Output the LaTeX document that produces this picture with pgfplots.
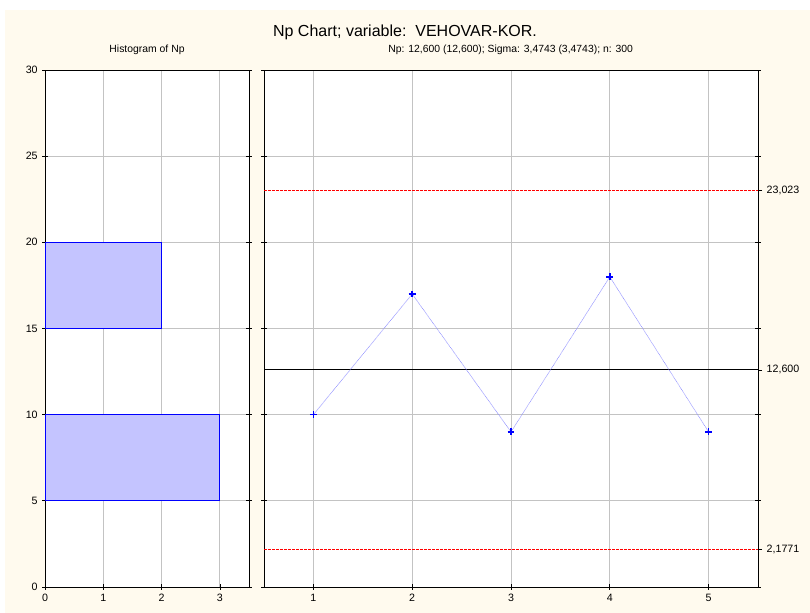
\documentclass[border=0pt]{standalone}
\usepackage{fontspec}
\setmainfont{Liberation Sans}
\usepackage{pgfplots}
\pgfplotsset{compat=1.18}

\definecolor{cream}{RGB}{255,250,238}
\definecolor{histfill}{RGB}{196,196,255}
\definecolor{gridgray}{RGB}{195,195,195}
\definecolor{limred}{RGB}{255,0,0}

\pgfplotsset{
  npbase/.style={
    scale only axis,
    height=387.75pt,
    ymin=0, ymax=30,
    axis background/.style={fill=white},
    grid=major,
    major grid style={gridgray, line width=0.6pt},
    tick align=center,
    major tick length=4pt,
    tick style={black, line width=0.5pt},
    axis line style={black, line width=0.6pt},
    ticklabel style={font=\fontsize{8}{9.5}\selectfont},
    /pgf/number format/assume math mode=true,
    clip=true,
  },
}

\begin{document}
\begin{tikzpicture}
\useasboundingbox (0,0) rectangle (607.5pt,459.75pt);
\fill[white] (0,0) rectangle (607.5pt,459.75pt);
\fill[cream] (3.5pt,0) rectangle (607.5pt,452pt);

\node[font=\fontsize{12}{14}\selectfont] at (303.75pt,435.75pt) {Np Chart; variable:\ \ VEHOVAR-KOR.};
\node[font=\fontsize{7.8}{9}\selectfont] at (110.25pt,422.5pt) {Histogram of Np};
\node[font=\fontsize{7.8}{9}\selectfont] at (383pt,422.5pt) {Np: 12,600 (12,600); Sigma: 3,4743 (3,4743); n: 300};

% histogram of Np
\begin{axis}[
  npbase,
  at={(33.75pt,19.5pt)}, anchor=south west,
  width=153pt,
  xmin=0, xmax=3.5,
  xtick={0,1,2,3},
  ytick={0,5,10,15,20,25,30},
  ytick pos=both,
  xtick pos=bottom,
]
\addplot[draw=blue, line width=0.6pt, fill=histfill] coordinates {(0,15) (2,15) (2,20) (0,20)} -- cycle;
\addplot[draw=blue, line width=0.6pt, fill=histfill] coordinates {(0,5) (3,5) (3,10) (0,10)} -- cycle;
\end{axis}

% Np chart
\begin{axis}[
  npbase,
  at={(198pt,19.5pt)}, anchor=south west,
  width=370.5pt,
  xmin=0.5, xmax=5.5,
  xtick={1,2,3,4,5},
  ytick={0,5,10,15,20,25,30},
  yticklabels={},
  ytick pos=both,
  xtick pos=bottom,
]
\addplot[draw=limred, dash pattern=on 2pt off 1pt, line width=0.9pt] coordinates {(0.5,23.023) (5.5,23.023)};
\addplot[draw=limred, dash pattern=on 2pt off 1pt, line width=0.9pt] coordinates {(0.5,2.1771) (5.5,2.1771)};
\addplot[draw=black, line width=0.7pt] coordinates {(0.5,12.6) (5.5,12.6)};
\addplot[draw=blue!45, line width=0.4pt, dash pattern=on 0.6pt off 0.4pt, mark=+, mark size=2.6pt,
  mark options={draw=blue, line width=1.2pt, solid}] coordinates {
  (1,10) (2,17) (3,9) (4,18) (5,9)
};
\end{axis}

% control limit labels
\begin{axis}[
  scale only axis,
  at={(198pt,19.5pt)}, anchor=south west,
  width=370.5pt, height=387.75pt,
  xmin=0.5, xmax=5.5,
  ymin=0, ymax=30,
  axis x line=none,
  axis y line*=right,
  axis line style={draw=none},
  ytick={2.1771,12.6,23.023},
  yticklabels={{2,1771},{12,600},{23,023}},
  tick align=outside,
  major tick length=3pt,
  tick style={black, line width=0.5pt},
  ticklabel style={font=\fontsize{8}{9.5}\selectfont},
]
\end{axis}
\end{tikzpicture}
\end{document}
